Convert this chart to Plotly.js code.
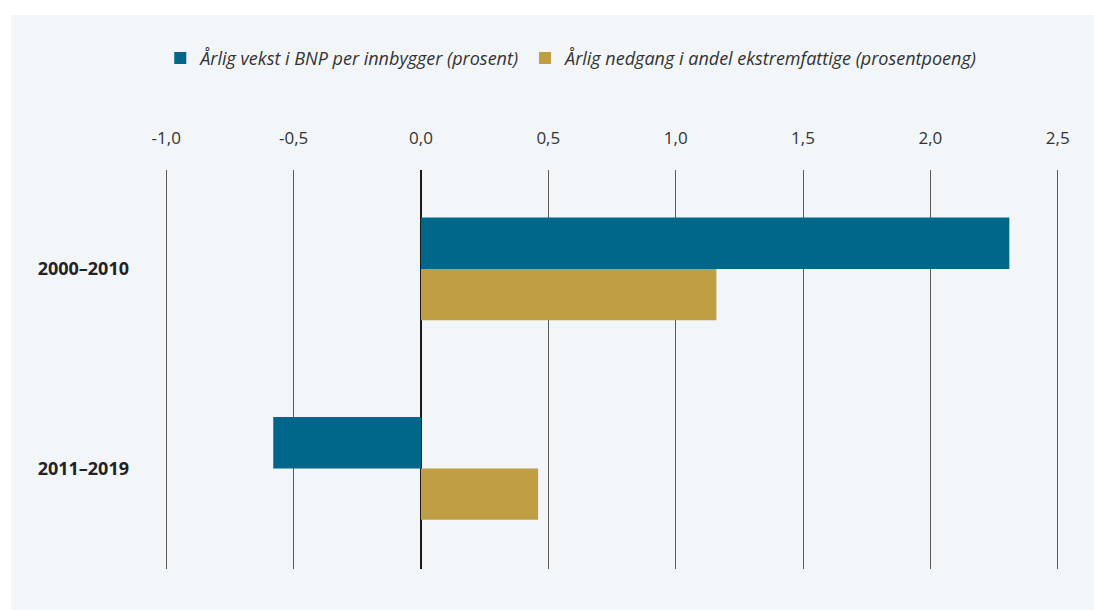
<!DOCTYPE html>
<html>
<head>
<meta charset="utf-8">
<script src="https://cdn.plot.ly/plotly-3.0.1.min.js"></script>
<style>
  html, body { margin: 0; padding: 0; background: #ffffff; }
  #chart { position: absolute; left: 11px; top: 15px; width: 1083px; height: 595px; }
</style>
</head>
<body>
<div id="chart"></div>
<script>
const categories = ["2000–2010", "2011–2019"];
const seriesNames = ["Årlig vekst i BNP per innbygger (prosent)", "Årlig nedgang i andel ekstremfattige (prosentpoeng)"];
const gdpGrowth = [2.31, -0.58];
const povertyDecline = [1.16, 0.46];
const tickVals = [-1, -0.5, 0, 0.5, 1, 1.5, 2, 2.5];
const tickText = ["-1,0", "-0,5", "0,0", "0,5", "1,0", "1,5", "2,0", "2,5"];
const colors = ["#00678a", "#c09e44"];

const traces = [
  { type: "bar", orientation: "h", name: seriesNames[0], y: categories, x: gdpGrowth,
    marker: { color: colors[0] }, hoverinfo: "x" },
  { type: "bar", orientation: "h", name: seriesNames[1], y: categories, x: povertyDecline,
    marker: { color: colors[1] }, hoverinfo: "x" }
];

const layout = {
  width: 1083, height: 595,
  paper_bgcolor: "#f2f6f9", plot_bgcolor: "#f2f6f9",
  margin: { l: 154, r: 35, t: 155, b: 41 },
  barmode: "group", bargap: 0.485, bargroupgap: 0,
  font: { family: "Open Sans, Noto Sans, sans-serif", color: "#333333", size: 17 },
  showlegend: true,
  legend: {
    orientation: "h", x: 0.455, xanchor: "center", y: 1.28, yanchor: "middle",
    font: { size: 18, color: "#333333", style: "italic" },
    itemclick: false, itemdoubleclick: false, traceorder: "normal",
    bgcolor: "rgba(0,0,0,0)"
  },
  xaxis: {
    side: "top", range: [-1.005, 2.505], tickvals: tickVals, ticktext: tickText,
    showgrid: true, gridcolor: "#5a5a5a", gridwidth: 1,
    zeroline: true, zerolinecolor: "#1a1a1a", zerolinewidth: 1.5,
    showline: false, ticks: "", ticklabelstandoff: 22,
    tickfont: { size: 17, color: "#333333" }, fixedrange: true
  },
  yaxis: {
    range: [1.504, -0.496], showgrid: false, zeroline: false, showline: false,
    ticks: "", ticklabelstandoff: 35,
    tickfont: { size: 18, color: "#222222", weight: "bold" }, fixedrange: true
  }
};

Plotly.newPlot("chart", traces, layout, { displayModeBar: false, staticPlot: true });
</script>
</body>
</html>
